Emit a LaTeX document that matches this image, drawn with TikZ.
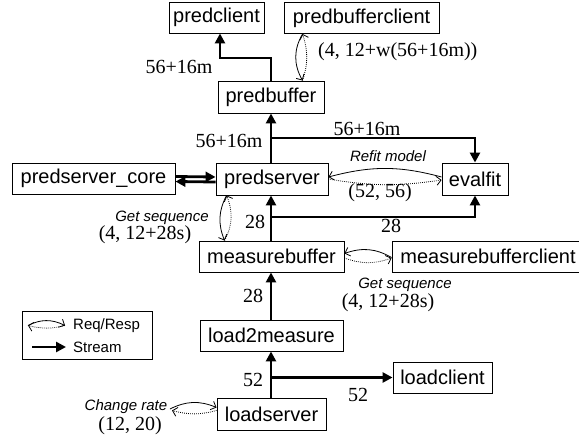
\documentclass[tikz,border=0pt]{standalone}
\usepackage{fontspec}
\setmainfont{Liberation Serif}
\setsansfont{Liberation Sans}
\usetikzlibrary{arrows.meta,bending}

\begin{document}
\begin{tikzpicture}[x=1pt,y=-1pt,
  box/.style={draw, line width=0.9pt, inner sep=0pt, minimum height=31pt,
    font=\sffamily\fontsize{20}{24}\selectfont},
  stream/.style={line width=2.8pt, -{Triangle[length=10pt,width=10pt]}},
  req/.style={line width=0.8pt, -{Straight Barb[length=4.5pt,width=9pt]}},
  resp/.style={req, dash pattern=on 0.8pt off 1.2pt},
  num/.style={font=\fontsize{20}{24}\selectfont, inner sep=0pt},
  note/.style={font=\sffamily\itshape\fontsize{15}{18}\selectfont, inner sep=0pt},
  legtext/.style={font=\sffamily\fontsize{15}{18}\selectfont, inner sep=0pt, anchor=west},
]
\useasboundingbox (0,0) rectangle (579,439);

% components
\node[box, minimum width=95pt]  (pc)   at (216.5,17.5)  {predclient};
\node[box, minimum width=155pt] (pbc)  at (361.5,18)    {predbufferclient};
\node[box, minimum width=106pt, minimum height=32pt] (pb) at (271,97) {predbuffer};
\node[box, minimum width=112pt, minimum height=32pt] (ps) at (272,179) {predserver};
\node[box, minimum width=163pt] (core) at (93.5,178.5)  {predserver\_core};
\node[box, minimum width=66pt, minimum height=32pt]  (ef) at (475,179) {evalfit};
\node[box, minimum width=145pt] (mb)   at (271.5,256.5) {measurebuffer};
\node[box, minimum width=192pt] (mbc)  at (488,256.5)   {measurebufferclient};
\node[box, minimum width=143pt] (lm)   at (271.5,335.5) {load2measure};
\node[box, minimum width=99pt]  (lc)   at (442.5,377.5) {loadclient};
\node[box, minimum width=109pt, minimum height=32pt] (ls) at (271.5,414.5) {loadserver};

% junctions of the stream lines
\coordinate (j1) at (271,138);
\coordinate (j2) at (271,217);
\coordinate (j3) at (271,377.5);
\coordinate (k)  at (220,58);

% streams
\draw[stream] (ps.north -| j1) -- (pb.south -| j1);
\draw[stream] (j1) -| (ef.north);
\draw[stream] (pb.north -| j1) |- (k) -- (pc.south -| k);
\draw[stream] ([yshift=2pt]core.east) -- ([yshift=2pt]ps.west);
\draw[stream] ([yshift=-3pt]ps.west) -- ([yshift=-3pt]core.east);
\draw[stream] (mb.north -| j2) -- (ps.south -| j2);
\draw[stream] (j2) -| (ef.south);
\draw[stream] (lm.north -| j2) -- (mb.south -| j2);
\draw[stream] (ls.north -| j3) -- (lm.south -| j3);
\draw[stream] (j3) -- (lc.west);

% request / response pairs
\draw[req]  ([xshift=19pt]pbc.south west) to[bend right=30] ([xshift=85pt]pb.north west);
\draw[resp] ([xshift=85pt]pb.north west) to[bend right=18] ([xshift=19pt]pbc.south west);

\draw[req]  ([yshift=2pt]ef.west) to[bend right=15] ([yshift=2pt]ps.east);
\draw[resp] ([yshift=0pt]ps.east) to[bend right=9] ([yshift=-1pt]ef.west);

\draw[req]  ([xshift=11pt]ps.south west) to[bend right=25] ([xshift=26pt]mb.north west);
\draw[resp] ([xshift=26pt]mb.north west) to[bend right=25] ([xshift=11pt]ps.south west);

\draw[req]  ([yshift=-1pt]mbc.west) to[bend right=25] ([yshift=3pt]mb.east);
\draw[resp] ([yshift=-1.5pt]mb.east) to[bend right=20] ([yshift=-1.5pt]mbc.west);

\coordinate (cr1) at (170,409);
\coordinate (cr2) at (172,410.5);
\draw[req]  (cr1) to[bend left=25] ([yshift=7pt]ls.west);
\draw[resp] ([yshift=4pt]ls.west) to[bend left=15] (cr2);

% labels
\node[num] (l1) at (179,67)  {56+16m};
\node[num, anchor=west] (l2) at (318,52) {(4, 12+w(56+16m))};
\node[num] (l3) at (229,141) {56+16m};
\node[num] (l4) at (367,129) {56+16m};
\node[note] (l5) at (388,156) {Refit model};
\node[num] (l6) at (380,193) {(52, 56)};
\node[note] (l7) at (162,218) {Get sequence};
\node[num] (l8) at (145,235) {(4, 12+28s)};
\node[num] (l9) at (255,222) {28};
\node[num] (l10) at (391,226) {28};
\node[note] (l11) at (405,285) {Get sequence};
\node[num] (l12) at (388,303) {(4, 12+28s)};
\node[num] (l13) at (253,296) {28};
\node[num] (l14) at (253,380) {52};
\node[num] (l15) at (358,395) {52};
\node[note] (l16) at (126,407) {Change rate};
\node[num] (l17) at (130,426) {(12, 20)};

% legend
\node[draw, line width=0.9pt, minimum width=130pt, minimum height=48pt, inner sep=0pt] (leg) at (87,335) {};
\coordinate (la) at (28,325.5);
\coordinate (lb) at (65,325.5);
\draw[req]  (la) to[bend left=27] (lb);
\draw[resp] (lb) to[bend left=14] (la);
\coordinate (lc1) at (32,347);
\coordinate (lc2) at (66,347);
\draw[stream] (lc1) -- (lc2);
\node[legtext] (t1) at (73,326) {Req/Resp};
\node[legtext] (t2) at (73,347) {Stream};
\end{tikzpicture}
\end{document}
